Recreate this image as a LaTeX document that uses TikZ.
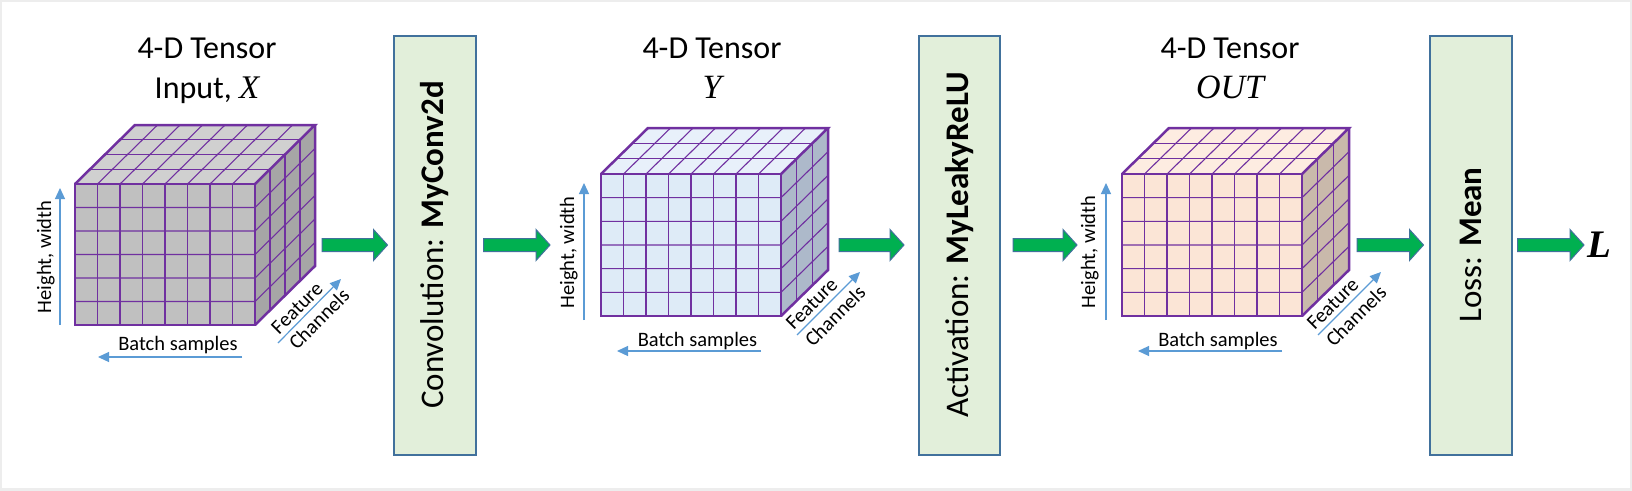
\documentclass[tikz,border=0pt]{standalone}
\usepackage{fontspec}
\setmainfont{Carlito}
\newfontfamily\serifit{Liberation Serif}
\usetikzlibrary{calc,arrows.meta}
\definecolor{boxgreen}{HTML}{E2EFDA}
\definecolor{boxblue}{HTML}{41719C}
\definecolor{arrowgreen}{HTML}{00B050}
\definecolor{cubepurple}{HTML}{7030A0}
\definecolor{lblue}{HTML}{5B9BD5}
\definecolor{cAfront}{HTML}{C0C0C0}
\definecolor{cAtop}{HTML}{D0D0D0}
\definecolor{cAside}{HTML}{A6A6A6}
\definecolor{cBfront}{HTML}{DEEBF7}
\definecolor{cBtop}{HTML}{E8F0FA}
\definecolor{cBside}{HTML}{ADB9CA}
\definecolor{cCfront}{HTML}{FBE5D6}
\definecolor{cCtop}{HTML}{FDECE1}
\definecolor{cCside}{HTML}{C9B9AB}
\tikzset{
  procbox/.style={draw=boxblue, fill=boxgreen, line width=2pt, minimum width=82pt, minimum height=419pt, inner sep=0pt},
  boxlabel/.style={rotate=90, font=\fontsize{33}{38}\selectfont, inner sep=0pt},
  titlelabel/.style={anchor=base, font=\fontsize{32}{38}\selectfont, inner sep=0pt},
  smalllabel/.style={font=\fontsize{20.5}{24}\selectfont, inner sep=0pt},
  gridline/.style={draw=cubepurple, line width=1.1pt},
  cubeedge/.style={draw=cubepurple, line width=2.5pt, line join=miter},
  bluearrow/.style={draw=lblue, line width=1.2pt, -{Triangle[width=10pt,length=11pt]}},
  garrowst/.style={fill=arrowgreen, draw=boxblue, line width=1pt, line join=miter},
}
% cube: #1 x0, #2 y0 (front face top-left), #3 h, #4 dx, #5 dy, #6 depth cells, #7 colour prefix
\newcommand\tcube[7]{%
  \begin{scope}[shift={(#1,#2)}]
    \fill[#7front] (0,0) rectangle (180,#3);
    \fill[#7top] (0,0) -- (#4,-#5) -- (180+#4,-#5) -- (180,0) -- cycle;
    \fill[#7side] (180,0) -- (180+#4,-#5) -- (180+#4,#3-#5) -- (180,#3) -- cycle;
    \foreach \i in {1,...,7} {
      \draw[gridline] ({\i*22.5},0) -- ({\i*22.5},#3);
      \draw[gridline] ({\i*22.5},0) -- ++(#4,-#5);
    }
    \foreach \j in {1,...,5} {
      \draw[gridline] (0,{\j*#3/6}) -- (180,{\j*#3/6}) -- ++(#4,-#5);
    }
    \pgfmathtruncatemacro\ndm{#6-1}
    \foreach \k in {1,...,\ndm} {
      \draw[gridline] ({\k*#4/#6},{-\k*#5/#6}) -- ++(180,0) -- ++(0,#3);
    }
    \draw[cubeedge] (0,0) rectangle (180,#3);
    \draw[cubeedge] (0,0) -- (#4,-#5) -- (180+#4,-#5) -- (180,0);
    \draw[cubeedge] (180+#4,-#5) -- (180+#4,#3-#5) -- (180,#3);
  \end{scope}}
\newcommand\garrow[2]{%
  \filldraw[garrowst] ($#1+(0,-6.5)$) -- ($#2+(-14,-6.5)$) -- ($#2+(-14,-15.5)$) -- #2
    -- ($#2+(-14,15.5)$) -- ($#2+(-14,6.5)$) -- ($#1+(0,6.5)$) -- cycle;}
\begin{document}
\begin{tikzpicture}[x=1pt,y=-1pt]
\useasboundingbox (0,0) rectangle (1632,490);
\fill[white] (0,0) rectangle (1632,490);
\draw[black!7, line width=4pt] (0,0) rectangle (1632,490);

% ---------- cubes ----------
\tcube{75}{184}{141}{60}{59}{4}{cA}
\tcube{601}{174}{142}{47}{46}{3}{cB}
\tcube{1122}{174}{142}{47}{46}{3}{cC}
\coordinate (cubeA) at (315,245);
\coordinate (cubeB) at (828,245);
\coordinate (cubeC) at (1349,245);

% ---------- titles ----------
\node[titlelabel] (tA1) at (207,58) {4-D Tensor};
\node[titlelabel] (tA2) at (207,98) {Input, {\serifit\itshape\fontsize{33}{38}\selectfont X}};
\node[titlelabel] (tB1) at (712,58) {4-D Tensor};
\node[titlelabel] (tB2) at (712,98) {\serifit\itshape\fontsize{34}{38}\selectfont Y};
\node[titlelabel] (tC1) at (1230,58) {4-D Tensor};
\node[titlelabel] (tC2) at (1230,98) {\serifit\itshape\fontsize{34}{38}\selectfont OUT};

% ---------- axis labels ----------
% cube A
\coordinate (hA0) at (60,325); \coordinate (hA1) at (60,188);
\draw[bluearrow] (hA0) -- (hA1);
\node[smalllabel, rotate=90, anchor=base] (hwA) at (51,257) {Height, width};
\coordinate (bA0) at (242,357); \coordinate (bA1) at (98,357);
\draw[bluearrow] (bA0) -- (bA1);
\node[smalllabel, anchor=base] (bsA) at (178,350) {Batch samples};
\coordinate (fA0) at (278,343); \coordinate (fA1) at (341,279);
\draw[bluearrow] (fA0) -- (fA1);
\node[smalllabel, rotate=45] (feA) at (297,308) {Feature};
\node[smalllabel, rotate=45] (chA) at (319,319) {Channels};
% cube B
\coordinate (hB0) at (584,320); \coordinate (hB1) at (584,183);
\draw[bluearrow] (hB0) -- (hB1);
\node[smalllabel, rotate=90, anchor=base] (hwB) at (574,252.5) {Height, width};
\coordinate (bB0) at (761,351); \coordinate (bB1) at (617,351);
\draw[bluearrow] (bB0) -- (bB1);
\node[smalllabel, anchor=base] (bsB) at (697.5,346) {Batch samples};
\coordinate (fB0) at (797,335); \coordinate (fB1) at (860,272);
\draw[bluearrow] (fB0) -- (fB1);
\node[smalllabel, rotate=45] (feB) at (811.7,303.7) {Feature};
\node[smalllabel, rotate=45] (chB) at (835,316) {Channels};
% cube C
\coordinate (hC0) at (1106,320); \coordinate (hC1) at (1106,183);
\draw[bluearrow] (hC0) -- (hC1);
\node[smalllabel, rotate=90, anchor=base] (hwC) at (1095,252) {Height, width};
\coordinate (bC0) at (1282,351); \coordinate (bC1) at (1138,351);
\draw[bluearrow] (bC0) -- (bC1);
\node[smalllabel, anchor=base] (bsC) at (1218,346) {Batch samples};
\coordinate (fC0) at (1318,335); \coordinate (fC1) at (1381,272);
\draw[bluearrow] (fC0) -- (fC1);
\node[smalllabel, rotate=45] (feC) at (1332.7,303.7) {Feature};
\node[smalllabel, rotate=45] (chC) at (1356,316) {Channels};

% ---------- process boxes ----------
\node[procbox] (conv) at (434.5,245) {};
\node[boxlabel] (convt) at (conv.center) {Convolution: \textbf{MyConv2d}};
\node[procbox, minimum width=81pt] (act) at (959.5,245) {};
\node[boxlabel] (actt) at (act.center) {Activation: \textbf{MyLeakyReLU}};
\node[procbox] (loss) at (1470.5,245) {};
\node[boxlabel] (losst) at (loss.center) {Loss: \textbf{Mean}};

% ---------- output ----------
\node[anchor=base west, inner sep=0pt, font=\serifit\bfseries\itshape\fontsize{39}{44}\selectfont] (Lout) at (1587,257) {L};

% ---------- green arrows ----------
\coordinate (g1s) at ($(cubeA)+(7,0)$);  \coordinate (g1e) at ($(conv.west)+(-5,0)$);
\coordinate (g2s) at ($(conv.east)+(7,0)$); \coordinate (g2e) at (550,245);
\coordinate (g3s) at ($(cubeB)+(11,0)$); \coordinate (g3e) at ($(act.west)+(-14,0)$);
\coordinate (g4s) at ($(act.east)+(12,0)$); \coordinate (g4e) at (1077,245);
\coordinate (g5s) at ($(cubeC)+(8,0)$);  \coordinate (g5e) at ($(loss.west)+(-5,0)$);
\coordinate (g6s) at ($(loss.east)+(5,0)$); \coordinate (g6e) at ($(Lout.west)+(-3,0)$);
\coordinate (g6e) at (g6e |- g6s);
\garrow{(g1s)}{(g1e)}
\garrow{(g2s)}{(g2e)}
\garrow{(g3s)}{(g3e)}
\garrow{(g4s)}{(g4e)}
\garrow{(g5s)}{(g5e)}
\garrow{(g6s)}{(g6e)}
\end{tikzpicture}
\end{document}
